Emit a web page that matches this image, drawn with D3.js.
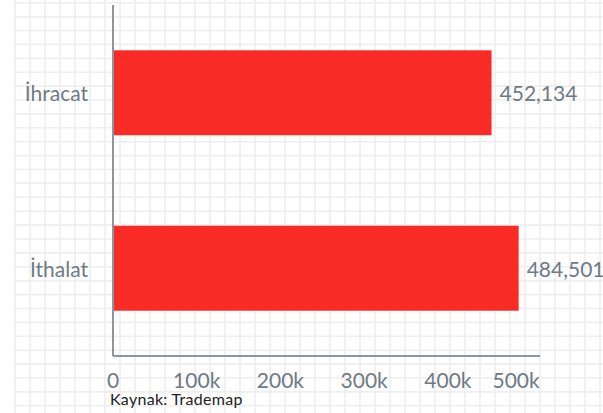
<!DOCTYPE html>
<html>
<head>
<meta charset="utf-8">
<script src="https://cdn.jsdelivr.net/npm/d3@7"></script>
<style>
  html, body { margin: 0; padding: 0; background: #fff; }
  svg { display: block; }
  text { font-family: Lato, "Open Sans", sans-serif; }
</style>
</head>
<body>
<svg id="chart" width="603" height="413"></svg>
<script>
const categories = ["İhracat", "İthalat"];
const values = [452134, 484501];
const xTicks = [0, 100000, 200000, 300000, 400000, 500000];
const sourceText = "Kaynak: Trademap";

(function () {
const W = 603, H = 413;
const svg = d3.select("#chart");

// graph-paper background
const grid = svg.append("g");
const gx = d3.range(15, W + 1, 15);
const gy = d3.range(0, 30).map(k => 2.7 + k * 13.9);
grid.selectAll("line.v").data(gx).join("line")
  .attr("x1", d => d).attr("x2", d => d).attr("y1", 0).attr("y2", H)
  .attr("stroke", "#eeeeee").attr("stroke-width", 1.6);
grid.selectAll("line.h").data(gy).join("line")
  .attr("x1", 15).attr("x2", W).attr("y1", d => d).attr("y2", d => d)
  .attr("stroke", "#eeeeee").attr("stroke-width", 1.6);

const mLeft = 113, mRight = 540, mTop = 5, mBottom = 356;
const x = d3.scaleLinear().domain([0, 510000]).range([mLeft, mRight]);
const y = d3.scaleBand().domain(categories).range([mTop, mBottom])
  .paddingInner(0.516).paddingOuter(0.258);

// bars
svg.append("g").selectAll("rect").data(values).join("rect")
  .attr("x", x(0))
  .attr("y", (d, i) => y(categories[i]))
  .attr("width", d => x(d) - x(0))
  .attr("height", y.bandwidth())
  .attr("fill", "#f92b26");

// value labels
const fmt = d3.format(",");
svg.append("g").selectAll("text").data(values).join("text")
  .attr("x", d => x(d) + 8)
  .attr("y", (d, i) => y(categories[i]) + y.bandwidth() / 2)
  .attr("dy", "0.4em")
  .attr("fill", "#6f7a84")
  .attr("font-size", 21)
  .text(d => fmt(d));

// axes lines
const axisColor = "#8d959d";
svg.append("line").attr("x1", mLeft).attr("x2", mLeft).attr("y1", mTop).attr("y2", mBottom)
  .attr("stroke", axisColor).attr("stroke-width", 2);
svg.append("line").attr("x1", mLeft).attr("x2", mRight).attr("y1", mBottom).attr("y2", mBottom)
  .attr("stroke", axisColor).attr("stroke-width", 2);

// y category labels
svg.append("g").selectAll("text").data(categories).join("text")
  .attr("x", mLeft - 25)
  .attr("y", d => y(d) + y.bandwidth() / 2)
  .attr("dy", "0.4em")
  .attr("text-anchor", "end")
  .attr("fill", "#6f7a84")
  .attr("font-size", 21)
  .text(d => d);

// x tick labels
const xf = d3.format("~s");
const xl = svg.append("g").selectAll("text").data(xTicks).join("text")
  .attr("x", d => x(d))
  .attr("y", mBottom + 32)
  .attr("text-anchor", "middle")
  .attr("fill", "#6f7a84")
  .attr("font-size", 21)
  .text(d => xf(d));
xl.each(function () {
  const b = this.getBBox();
  if (b.x + b.width > mRight) {
    d3.select(this).attr("x", +d3.select(this).attr("x") - (b.x + b.width - mRight));
  }
});

// source
svg.append("text")
  .attr("x", 110).attr("y", 405)
  .attr("fill", "#222")
  .attr("font-size", 16)
  .attr("letter-spacing", 0.3)
  .text(sourceText);
})();
</script>
</body>
</html>
